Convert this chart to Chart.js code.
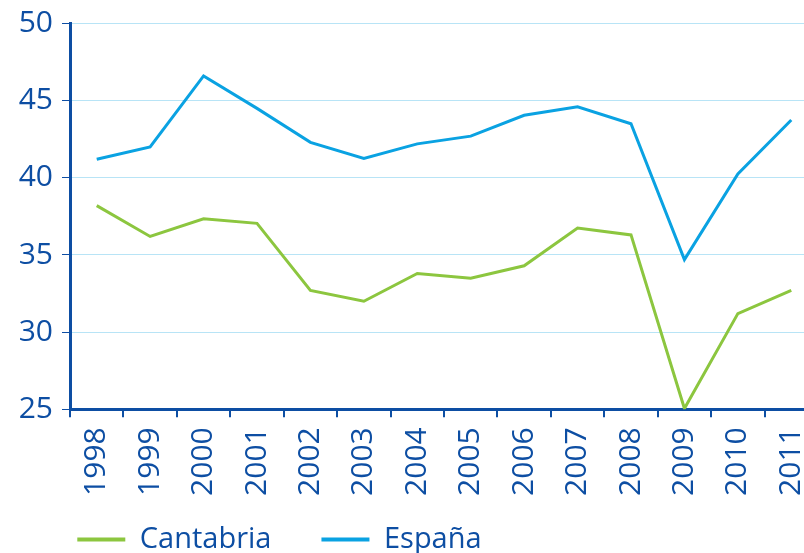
<!DOCTYPE html>
<html>
<head>
<meta charset="utf-8">
<script src="https://cdn.jsdelivr.net/npm/chart.js@4.4.1/dist/chart.umd.min.js"></script>
<style>
  html, body { margin: 0; padding: 0; overflow: hidden; background: #ffffff; width: 804px; height: 553px; }
  #c { display: block; }
</style>
</head>
<body>
<canvas id="c" width="820" height="553"></canvas>
<script>
const years = ['1998','1999','2000','2001','2002','2003','2004','2005','2006','2007','2008','2009','2010','2011'];
const cantabria = [38.2, 36.2, 37.35, 37.05, 32.7, 32.0, 33.8, 33.5, 34.3, 36.75, 36.3, 25.05, 31.2, 32.7];
const espana = [41.2, 42.0, 46.6, 44.5, 42.3, 41.25, 42.2, 42.7, 44.05, 44.6, 43.5, 34.7, 40.25, 43.75];
const yTicks = [25, 30, 35, 40, 45, 50];

const DARK = '#0d4ea3';
const GRID = '#b8e4f6';
const GREEN = '#8cc63f';
const BLUE = '#0aa2e2';
const FONT = "'Open Sans', 'Noto Sans', sans-serif";

// place the Chart.js legend where the reference has it
const legendPlace = {
  id: 'legendPlace',
  afterLayout(chart) {
    const lg = chart.legend;
    const w = lg.width, h = lg.height;
    lg.left = 27.3; lg.right = 27.3 + w;
    lg.top = 475; lg.bottom = 475 + h;
  }
};

new Chart(document.getElementById('c'), {
  type: 'line',
  data: {
    labels: years,
    datasets: [
      { label: 'Cantabria', data: cantabria, borderColor: GREEN, backgroundColor: GREEN, borderWidth: 3, pointRadius: 0, tension: 0 },
      { label: 'España', data: espana, borderColor: BLUE, backgroundColor: BLUE, borderWidth: 3, pointRadius: 0, tension: 0 }
    ]
  },
  plugins: [legendPlace],
  options: {
    responsive: false,
    animation: false,
    layout: { padding: { left: 0, right: 2, top: 23.5, bottom: -45.3 } },
    plugins: {
      tooltip: { enabled: false },
      legend: {
        position: 'bottom',
        align: 'start',
        labels: {
          boxWidth: 48,
          boxHeight: 4,
          padding: 50,
          color: DARK,
          font: { family: FONT, size: 29 },
          generateLabels: (chart) => Chart.defaults.plugins.legend.labels.generateLabels(chart)
            .map(l => Object.assign(l, { lineWidth: 0 }))
        }
      }
    },
    scales: {
      x: {
        offset: true,
        afterFit: (s) => { s.height = 100; s.paddingLeft = 0; s.paddingRight = 0; },
        grid: { offset: true, drawOnChartArea: false, drawTicks: true, tickLength: 8, tickColor: DARK, lineWidth: 2 },
        border: { display: true, color: DARK, width: 3 },
        ticks: { color: DARK, font: { family: FONT, size: 30 }, minRotation: 90, maxRotation: 90, padding: 10, autoSkip: false }
      },
      y: {
        min: 25,
        max: 50,
        afterFit: (s) => { s.width = 70; s.paddingTop = 0; s.paddingBottom = 0; },
        afterBuildTicks: (s) => { s.ticks = yTicks.map(v => ({ value: v })); },
        grid: { color: GRID, lineWidth: 1, drawTicks: true, tickLength: 8, tickColor: DARK },
        border: { display: true, color: DARK, width: 3 },
        ticks: { color: DARK, font: { family: FONT, size: 30 }, padding: 9 }
      }
    }
  }
});
</script>
</body>
</html>
